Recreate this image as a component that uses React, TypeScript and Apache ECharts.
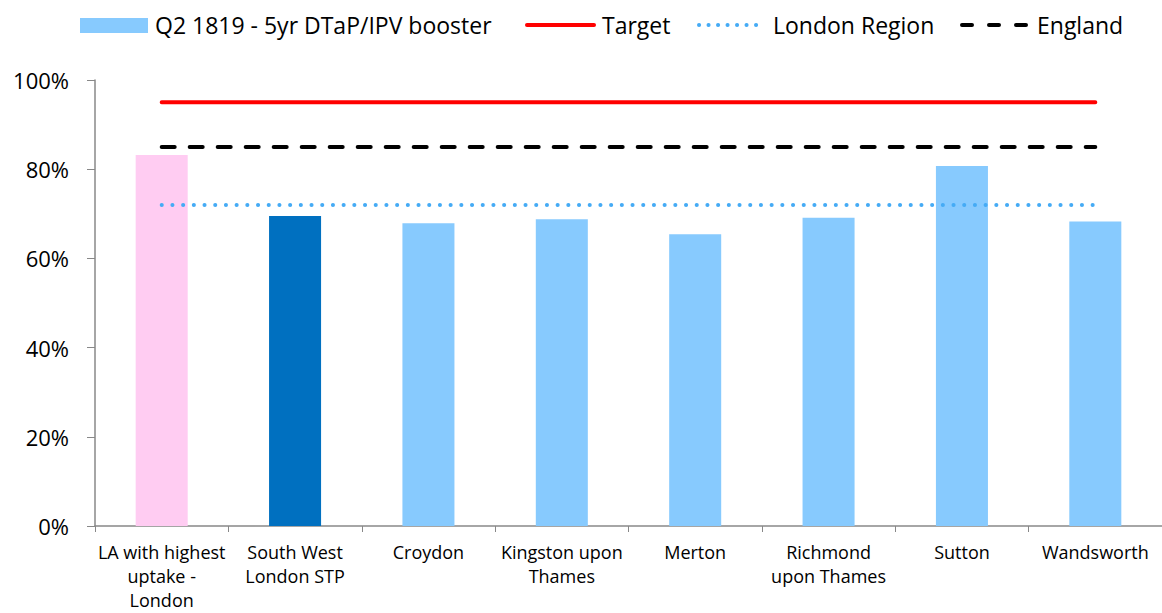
import React, { useEffect, useRef } from "react";
import * as echarts from "echarts";

const categories = [
  "LA with highest\nuptake -\nLondon",
  "South West\nLondon STP",
  "Croydon",
  "Kingston upon\nThames",
  "Merton",
  "Richmond\nupon Thames",
  "Sutton",
  "Wandsworth",
];
const uptake = [83.2, 69.5, 67.9, 68.8, 65.4, 69.1, 80.7, 68.3];
const targetValues = [95, 95, 95, 95, 95, 95, 95, 95];
const londonValues = [72, 72, 72, 72, 72, 72, 72, 72];
const englandValues = [85, 85, 85, 85, 85, 85, 85, 85];
const yTicks = [0, 20, 40, 60, 80, 100];
const seriesNames = ["Q2 1819 - 5yr DTaP/IPV booster", "Target", "London Region", "England"];

const FONT = "'Open Sans', sans-serif";
const LIGHT = "#87CAFE";
const RED = "#FF0000";
const DOT = "#45ABF5";
const barColors = ["#FFCCF2", "#0070C0", LIGHT, LIGHT, LIGHT, LIGHT, LIGHT, LIGHT];

const dotDash = [0.1, 10.6];
const dashDash = [13, 15];

export default function App() {
  const ref = useRef<HTMLDivElement>(null);
  useEffect(() => {
    if (!ref.current) return;
    const chart = echarts.init(ref.current, undefined, { renderer: "svg" });
    const ly = 25;
    const legendText = (x: number, t: string) => ({
      type: "text",
      x,
      y: ly,
      style: { text: t, fill: "#000", font: `23px ${FONT}`, textVerticalAlign: "middle", textAlign: "left" },
    });
    chart.setOption({
      animation: false,
      backgroundColor: "#fff",
      textStyle: { fontFamily: FONT },
      graphic: [
        { type: "rect", shape: { x: 80, y: 18, width: 68, height: 15 }, style: { fill: LIGHT } },
        legendText(155, seriesNames[0]),
        { type: "line", shape: { x1: 527, y1: ly, x2: 594, y2: ly }, style: { stroke: RED, lineWidth: 4, lineCap: "round" } },
        legendText(602, seriesNames[1]),
        { type: "line", shape: { x1: 699, y1: ly, x2: 765, y2: ly }, style: { stroke: DOT, lineWidth: 4, lineCap: "round", lineDash: [0.1, 9.4] } },
        legendText(773, seriesNames[2]),
        { type: "line", shape: { x1: 962, y1: ly, x2: 1030, y2: ly }, style: { stroke: "#000", lineWidth: 4, lineCap: "round", lineDash: [10, 17] } },
        legendText(1037, seriesNames[3]),
      ],
      grid: { left: 95, right: -10, top: 80, bottom: 87 },
      xAxis: {
        type: "category",
        data: categories,
        axisLine: { lineStyle: { color: "#888", width: 1.5 } },
        axisTick: { show: true, length: 6, lineStyle: { color: "#888" } },
        axisLabel: { fontSize: 18, color: "#000", lineHeight: 24, margin: 14, interval: 0 },
      },
      yAxis: {
        type: "value",
        min: yTicks[0],
        max: yTicks[yTicks.length - 1],
        interval: 20,
        splitLine: { show: false },
        axisLine: { show: true, lineStyle: { color: "#888", width: 1.5 } },
        axisTick: { show: true, length: 8, lineStyle: { color: "#888" } },
        axisLabel: { fontSize: 22, color: "#000", margin: 26, formatter: (v: number) => v + "%" },
      },
      series: [
        {
          name: seriesNames[0],
          type: "bar",
          barWidth: "39%",
          data: uptake.map((v, i) => ({ value: v, itemStyle: { color: barColors[i] } })),
          itemStyle: { color: LIGHT },
        },
        {
          name: seriesNames[1],
          type: "line",
          data: targetValues,
          symbol: "none",
          lineStyle: { color: RED, width: 4, cap: "round" },
          itemStyle: { color: RED },
        },
        {
          name: seriesNames[2],
          type: "line",
          data: londonValues,
          symbol: "none",
          lineStyle: { color: DOT, width: 4, type: dotDash, cap: "round" },
          itemStyle: { color: DOT },
        },
        {
          name: seriesNames[3],
          type: "line",
          data: englandValues,
          symbol: "none",
          lineStyle: { color: "#000", width: 4, type: dashDash, cap: "round" },
          itemStyle: { color: "#000" },
        },
      ],
    });
    return () => chart.dispose();
  }, []);
  return (
    <div
      ref={ref}
      style={{ position: "absolute", left: 0, top: 0, width: 1162, height: 613, overflow: "hidden" }}
    />
  );
}
